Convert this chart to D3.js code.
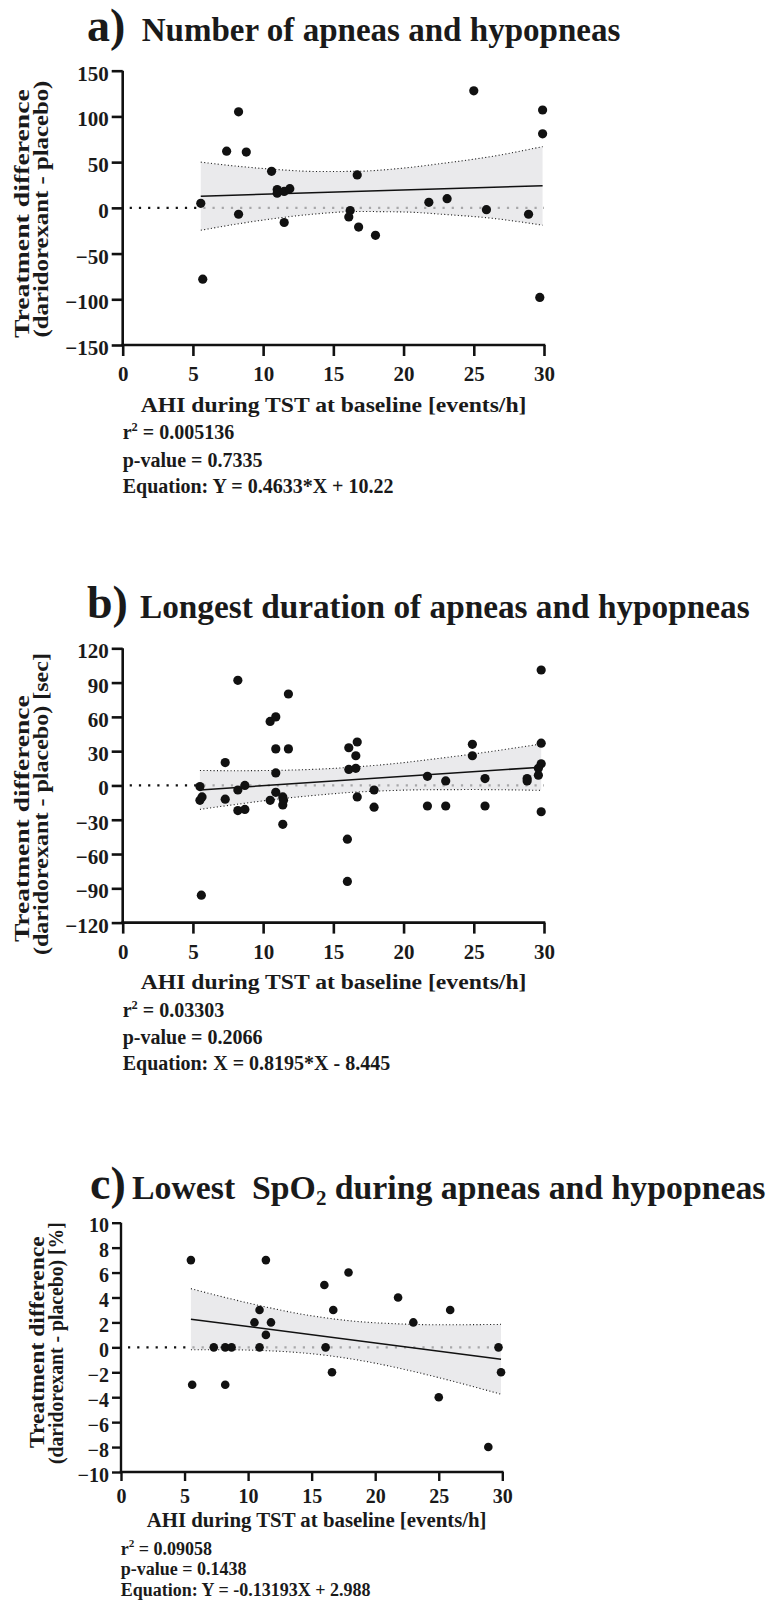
<!DOCTYPE html>
<html><head><meta charset="utf-8">
<script src="https://cdn.jsdelivr.net/npm/d3@7"></script>
<style>
html,body{margin:0;padding:0;background:#fff;}
svg{display:block;}
text{font-family:"Liberation Serif","Times New Roman",serif;font-weight:bold;fill:#1a1a1a;}
</style></head><body>
<svg id="chart" width="768" height="1605"></svg>
<script>
// ---------------- DATA ----------------
const xTicks = [0, 5, 10, 15, 20, 25, 30];

// Panel a: Number of apneas and hypopneas
const aX = [5.56,5.7,7.4,8.25,8.25,8.8,10.6,11.0,11.0,11.5,11.5,11.9,16.2,16.1,16.7,16.8,18.0,21.8,23.1,25.0,25.9,28.9,29.7,29.9,29.9];
const aY = [5,-78,62,105,-7,61,40,20,16,18,-16,21,-3,-10,36,-21,-30,6,10,128,-2,-7,-98,107,81];
const aFitX = [5.56, 29.9];
const aFitY = [12.8, 24.1];
const aBandX  = [5.56, 8, 11, 14, 16.7, 20, 23, 26, 29.9];
const aBandHi = [50, 45.8, 41.9, 39.7, 40, 43.5, 49.1, 55.5, 67];
const aBandLo = [-24.5, -18, -11.3, -6.3, -4, -4.5, -7.3, -10.9, -19];
const aYTicks = [-150, -100, -50, 0, 50, 100, 150];

// Panel b: Longest duration of apneas and hypopneas
const bX = [5.5,5.5,5.65,5.6,7.3,7.3,8.2,8.2,8.2,8.7,8.7,10.5,10.5,10.9,10.9,10.9,10.9,11.4,11.4,11.45,11.4,11.8,11.8,16.0,16.0,16.1,16.1,16.6,16.6,16.7,16.7,17.9,17.9,21.7,21.7,23.0,23.0,24.9,24.9,25.8,25.8,28.8,28.8,29.8,29.8,29.8,29.6,29.6,29.8];
const bY = [-1,-13,-10,-96,20,-12,92,-4,-22,0,-21,56,-13,60,32,11,-6,-10,-17,-13,-34,80,32,-47,-84,33,14,26,15,38,-10,-4,-19,8,-18,4,-18,36,26,6,-18,6,4,101,37,19,15,9,-23];
const bFitX = [5.5, 29.8];
const bFitY = [-3.9, 16.0];
const bBandX  = [5.5, 8, 11, 14, 16, 19, 22, 25, 29.8];
const bBandHi = [13.1, 12.9, 13.2, 14.3, 15.7, 18.7, 22.9, 27.6, 36.3];
const bBandLo = [-20.9, -16.7, -12.0, -8.3, -6.3, -4.5, -3.7, -3.6, -4.3];
const bYTicks = [-120, -90, -60, -30, 0, 30, 60, 90, 120];

// Panel c: Lowest SpO2 during apneas and hypopneas
const cX = [5.5,5.6,7.3,8.2,8.2,8.7,10.5,10.9,10.9,11.4,11.4,11.8,16.0,16.1,16.6,16.7,17.9,21.8,23.0,25.0,25.9,28.9,29.7,29.9];
const cY = [7,-3,0,0,-3,0,2,3,0,7,1,2,5,0,-2,3,6,4,2,-4,3,-8,0,-2];
const cFitX = [5.5, 29.9];
const cFitY = [2.26, -0.96];
const cBandX  = [5.5, 8, 11, 14, 16.5, 19, 22, 25, 29.9];
const cBandHi = [4.71, 4.05, 3.33, 2.70, 2.31, 2.04, 1.88, 1.81, 1.84];
const cBandLo = [-0.19, -0.19, -0.25, -0.42, -0.69, -1.08, -1.70, -2.43, -3.76];
const cYTicks = [-10, -8, -6, -4, -2, 0, 2, 4, 6, 8, 10];

// Texts
const xTitle = "AHI during TST at baseline [events/h]";
const yTitle1 = "Treatment difference";
const aYTitle2 = "(daridorexant - placebo)";
const bYTitle2 = "(daridorexant - placebo) [sec]";
const cYTitle2 = "(daridorexant - placebo) [%]";
const aTitle = ["a)", "Number of apneas and hypopneas"];
const bTitle = ["b)", "Longest duration of apneas and hypopneas"];
const cTitle = ["c)", "Lowest\u00A0 SpO", "2", " during apneas and hypopneas"];
const aStats = ["0.005136", "p-value = 0.7335", "Equation: Y = 0.4633*X + 10.22"];
const bStats = ["0.03303", "p-value = 0.2066", "Equation: X = 0.8195*X - 8.445"];
const cStats = ["0.09058", "p-value = 0.1438", "Equation: Y = -0.13193X + 2.988"];

// ---------------- DRAWING ----------------
const svg = d3.select("#chart");

function fitGroup(parent, x, y, target, rotate) {
  const g = parent.append("g");
  return {g, finish: function() {
    const w = g.node().getBBox().width;
    const s = target / w;
    g.attr("transform", `translate(${x},${y})` + (rotate ? " rotate(-90)" : "") + ` scale(${s},1)`);
  }};
}

function drawPanel(D, L) {
  const root = svg.append("g");
  const x = d3.scaleLinear().domain([0, 30]).range([L.x0, L.x1]);
  const y = d3.scaleLinear().domain([D.yTicks[0], D.yTicks[D.yTicks.length-1]]).range([L.yBot, L.yTop]);

  // zero reference dotted line (black)
  root.append("line")
    .attr("x1", x(0)).attr("x2", x(30)).attr("y1", y(0)).attr("y2", y(0))
    .attr("stroke", "#111").attr("stroke-width", 2.2)
    .attr("stroke-dasharray", "2.2 7").attr("stroke-dashoffset", -7);

  // band
  const band = D.bandX.map((v, i) => ({x: v, lo: D.bandLo[i], hi: D.bandHi[i]}));
  root.append("path").datum(band)
    .attr("d", d3.area().x(p => x(p.x)).y0(p => y(p.lo)).y1(p => y(p.hi)).curve(d3.curveMonotoneX))
    .attr("fill", "#e2e2e5").attr("fill-opacity", 0.72);
  ["hi", "lo"].forEach(k => {
    root.append("path").datum(band)
      .attr("d", d3.line().x(p => x(p.x)).y(p => y(p[k])).curve(d3.curveMonotoneX))
      .attr("fill", "none").attr("stroke", "#222").attr("stroke-width", 1.1)
      .attr("stroke-dasharray", "1.1 2.3");
  });

  // regression line
  root.append("line")
    .attr("x1", x(D.fitX[0])).attr("x2", x(D.fitX[1]))
    .attr("y1", y(D.fitY[0])).attr("y2", y(D.fitY[1]))
    .attr("stroke", "#111").attr("stroke-width", 1.5);

  // axes
  const yAxis = d3.axisLeft(y).tickValues(D.yTicks).tickSize(L.tick).tickSizeOuter(0).tickPadding(L.yPad);
  const xAxis = d3.axisBottom(x).tickValues(xTicks).tickSize(L.tick).tickSizeOuter(0).tickPadding(L.xPad);
  const gy = root.append("g").attr("transform", `translate(${L.x0},0)`).call(yAxis);
  const gx = root.append("g").attr("transform", `translate(0,${L.yBot})`).call(xAxis);
  [gx, gy].forEach(g => {
    g.select(".domain").attr("stroke", "#111").attr("stroke-width", L.axisW);
    g.selectAll(".tick line").attr("stroke", "#111").attr("stroke-width", L.axisW);
    g.selectAll(".tick text").attr("fill", "#1a1a1a").attr("font-size", L.tickFont)
      .attr("font-family", '"Liberation Serif","Times New Roman",serif').attr("font-weight", "bold");
  });
  gy.selectAll(".tick text").attr("dy", "0.45em");
  gx.select(".domain").attr("d", `M${L.x0 - L.axisW/2},0H${x(30) + L.axisW/2}`);
  gy.select(".domain").attr("d", `M0,${L.yTop}V${L.yBot}`);

  // points
  root.append("g").selectAll("circle").data(D.xs.map((v, i) => [v, D.ys[i]])).join("circle")
    .attr("cx", p => x(p[0])).attr("cy", p => y(p[1])).attr("r", L.r).attr("fill", "#111");

  // title
  root.append("text").attr("x", L.letterX).attr("y", L.titleY).attr("font-size", L.letterFont).text(D.title[0]);
  const t = fitGroup(root, L.titleX, L.titleY, L.titleW, false);
  const tt = t.g.append("text").attr("font-size", L.titleFont);
  if (D.title.length > 2) {
    tt.append("tspan").text(D.title[1]);
    tt.append("tspan").attr("font-size", L.titleFont * 0.62).attr("dy", 6).text(D.title[2]);
    tt.append("tspan").attr("dy", -6).text(D.title[3]);
  } else {
    tt.text(D.title[1]);
  }
  t.finish();

  // x-axis title
  const xt = fitGroup(root, L.axCx - L.axW / 2, L.axY, L.axW, false);
  xt.g.append("text").attr("font-size", L.axFont).text(xTitle);
  xt.finish();

  // y-axis title (two lines)
  const y1 = fitGroup(root, L.yt1[0], L.yt1[1], L.yt1[2], true);
  y1.g.append("text").attr("font-size", L.axFont).text(yTitle1);
  y1.finish();
  const y2 = fitGroup(root, L.yt2[0], L.yt2[1], L.yt2[2], true);
  y2.g.append("text").attr("font-size", L.axFont).text(D.yTitle2);
  y2.finish();

  // stats
  const r2 = root.append("text").attr("x", L.statsX).attr("y", L.statsY[0]).attr("font-size", L.statsFont);
  r2.append("tspan").text("r");
  r2.append("tspan").attr("font-size", L.statsFont * 0.62).attr("dy", -8).text("2");
  r2.append("tspan").attr("dy", 8).text(" = " + D.stats[0]);
  root.append("text").attr("x", L.statsX).attr("y", L.statsY[1]).attr("font-size", L.statsFont).text(D.stats[1]);
  root.append("text").attr("x", L.statsX).attr("y", L.statsY[2]).attr("font-size", L.statsFont).text(D.stats[2]);
}

const LA = {x0:122.7, x1:544, yTop:70.7, yBot:345, tick:11, axisW:2.6, tickFont:21, xPad:10, yPad:3, r:4.6,
  letterX:87, letterFont:46, titleX:141.7, titleY:40.7, titleW:479, titleFont:33,
  axCx:333.7, axW:386, axY:411.7, axFont:21,
  yt1:[29.3, 338, 249], yt2:[48, 337.5, 257],
  statsX:122.7, statsY:[439, 466.7, 492.7], statsFont:20};
const dy = 577.6;
const LB = Object.assign({}, LA, {yTop:LA.yTop+dy, yBot:LA.yBot+dy, titleY:LA.titleY+dy, titleX:140, titleW:610,
  axY:LA.axY+dy, yt1:[29.3, 942, 247], yt2:[48, 955, 302], statsY:LA.statsY.map(v => v+dy)});
const LC = {x0:121, x1:502.3, yTop:1222.7, yBot:1472, tick:9, axisW:2.4, tickFont:20, xPad:8, yPad:3, r:4.3,
  letterX:90, letterFont:46, titleX:132, titleY:1199, titleW:634, titleFont:33,
  axCx:316.7, axW:340, axY:1526.7, axFont:20,
  yt1:[44, 1448, 212], yt2:[63, 1464, 242],
  statsX:120.7, statsY:[1555, 1575, 1596], statsFont:18};

drawPanel({xs:aX, ys:aY, fitX:aFitX, fitY:aFitY, bandX:aBandX, bandHi:aBandHi, bandLo:aBandLo, yTicks:aYTicks,
  title:aTitle, yTitle2:aYTitle2, stats:aStats}, LA);
drawPanel({xs:bX, ys:bY, fitX:bFitX, fitY:bFitY, bandX:bBandX, bandHi:bBandHi, bandLo:bBandLo, yTicks:bYTicks,
  title:bTitle, yTitle2:bYTitle2, stats:bStats}, LB);
drawPanel({xs:cX, ys:cY, fitX:cFitX, fitY:cFitY, bandX:cBandX, bandHi:cBandHi, bandLo:cBandLo, yTicks:cYTicks,
  title:cTitle, yTitle2:cYTitle2, stats:cStats}, LC);
</script>
</body></html>
